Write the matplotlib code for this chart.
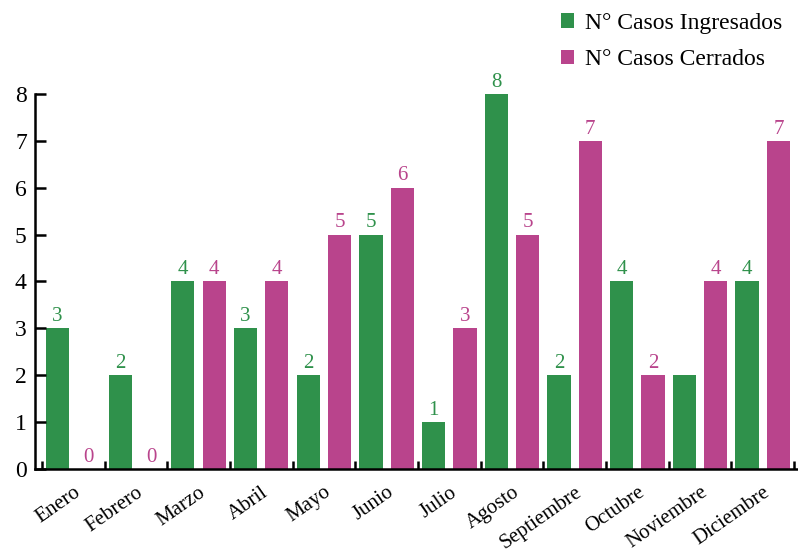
import numpy as np
import matplotlib.pyplot as plt

# datos
meses = ["Enero", "Febrero", "Marzo", "Abril", "Mayo", "Junio", "Julio",
         "Agosto", "Septiembre", "Octubre", "Noviembre", "Diciembre"]
ingresados = [3, 2, 4, 3, 2, 5, 1, 8, 2, 4, 2, 4]
cerrados = [0, 0, 4, 4, 5, 6, 3, 5, 7, 2, 4, 7]
# en el original la barra verde de Noviembre no lleva etiqueta
etiqueta_ingresados = [True] * 12
etiqueta_ingresados[10] = False

verde = "#2f914b"
magenta = "#b9448c"

plt.rcParams["font.family"] = ["Liberation Serif", "DejaVu Serif"]

fig = plt.figure(figsize=(7.98, 5.53), dpi=100)
ax = fig.add_axes([0.044, 0.152, 0.955, 0.678])

x = np.arange(len(meses))
w = 0.37
b1 = ax.bar(x - 0.25, ingresados, w, color=verde, label="N° Casos Ingresados")
b2 = ax.bar(x + 0.25, cerrados, w, color=magenta, label="N° Casos Cerrados")

for xi, v, show in zip(x, ingresados, etiqueta_ingresados):
    if show:
        ax.text(xi - 0.25, v + 0.05, str(v), ha="center", va="bottom",
                color=verde, fontsize=15)
for xi, v in zip(x, cerrados):
    ax.text(xi + 0.25, v + 0.05, str(v), ha="center", va="bottom",
            color=magenta, fontsize=15)

ax.set_xlim(-0.607, 11.55)
ax.set_ylim(0, 8)

for s in ["top", "right"]:
    ax.spines[s].set_visible(False)
for s in ["left", "bottom"]:
    ax.spines[s].set_linewidth(1.8)

# ticks en los limites de cada mes, etiquetas en el centro
ax.set_xticks(np.arange(-0.5, 12, 1))
ax.set_xticklabels([])
ax.tick_params(axis="x", which="major", direction="in", length=6, width=1.8)
ax.set_xticks(x, minor=True)
ax.set_xticklabels(meses, minor=True, rotation=35, ha="right", va="top",
                   rotation_mode="anchor", fontsize=15)
ax.tick_params(axis="x", which="minor", length=0, pad=10)

ax.set_yticks(range(0, 9))
ax.tick_params(axis="y", direction="in", length=8, width=1.8, labelsize=17, pad=6)

fig.legend(handles=[b1, b2], loc="upper right", bbox_to_anchor=(1.007, 1.015),
           frameon=False, fontsize=17, handlelength=0.55, handleheight=0.55,
           handletextpad=0.45, labelspacing=0.65)

fig.savefig("out.png", dpi=100)
